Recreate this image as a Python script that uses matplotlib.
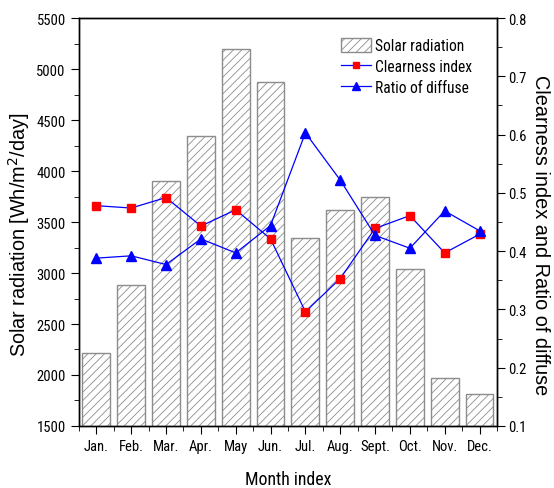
import matplotlib
matplotlib.use("Agg")
import matplotlib.pyplot as plt
from matplotlib.ticker import MultipleLocator
import numpy as np

plt.rcParams['font.family'] = ['Liberation Sans', 'DejaVu Sans']
plt.rcParams['hatch.color'] = '#999999'
plt.rcParams['hatch.linewidth'] = 0.6

narrow = ['Roboto Condensed', 'Liberation Sans', 'DejaVu Sans']

months = ['Jan.', 'Feb.', 'Mar.', 'Apr.', 'May', 'Jun.', 'Jul.', 'Aug.', 'Sept.', 'Oct.', 'Nov.', 'Dec.']
solar = [2220, 2880, 3900, 4340, 5200, 4870, 3340, 3620, 3750, 3040, 1970, 1810]
clearness = [0.478, 0.474, 0.492, 0.443, 0.471, 0.421, 0.296, 0.353, 0.439, 0.461, 0.397, 0.429]
diffuse = [0.388, 0.392, 0.377, 0.421, 0.397, 0.444, 0.603, 0.522, 0.427, 0.405, 0.469, 0.435]

x = np.arange(1, len(months) + 1)

fig = plt.figure(figsize=(5.54, 4.89), dpi=100)
ax = fig.add_axes([0.1426, 0.1268, 0.7544, 0.8343])

bars = ax.bar(x, solar, width=0.8, bottom=0, color='white', edgecolor='#8c8c8c',
              linewidth=1.0, hatch='////', label='Solar radiation', zorder=2)
ax.set_ylim(1500, 5500)
ax.set_xlim(0.5, 12.5)
ax.set_xticks(x)
ax.set_xticklabels(months)
ax.xaxis.set_minor_locator(MultipleLocator(0.5))
ax.yaxis.set_major_locator(MultipleLocator(500))
ax.yaxis.set_minor_locator(MultipleLocator(250))
ax.tick_params(which='both', direction='out', top=False)
ax.tick_params(which='major', length=6)
ax.tick_params(which='minor', length=3.5)
ax.set_ylabel('Solar radiation [Wh/m$^2$/day]', fontsize=14.3)
ax.yaxis.set_label_coords(-0.112, 0.47)
ax.set_xlabel('Month index', fontsize=12.8, family=narrow, labelpad=12)

ax2 = ax.twinx()
l1, = ax2.plot(x, clearness, color='blue', lw=0.9, marker='s', ms=6,
               mfc='red', mec='red', label='Clearness index', zorder=3)
l2, = ax2.plot(x, diffuse, color='blue', lw=0.9, marker='^', ms=7,
               mfc='blue', mec='blue', label='Ratio of diffuse', zorder=3)
ax2.set_ylim(0.1, 0.8)
ax2.yaxis.set_major_locator(MultipleLocator(0.1))
ax2.yaxis.set_minor_locator(MultipleLocator(0.05))
ax2.tick_params(which='both', direction='out', pad=2)
ax2.tick_params(which='major', length=6)
ax2.tick_params(which='minor', length=3.5)
ax2.set_ylabel('Clearness index and Ratio of diffuse', fontsize=14.3, rotation=-90)
ax2.yaxis.set_label_coords(1.128, 0.47)

for a in (ax, ax2):
    for lab in a.get_xticklabels() + a.get_yticklabels():
        lab.set_family(narrow)
        lab.set_fontsize(10.5)
    for s in a.spines.values():
        s.set_linewidth(1.0)

ax2.legend([bars, l1, l2], ['Solar radiation', 'Clearness index', 'Ratio of diffuse'],
           loc='upper right', bbox_to_anchor=(0.975, 0.985), frameon=False,
           prop={'family': narrow, 'size': 11.2}, handlelength=1.9,
           handleheight=0.95, handletextpad=0.3, labelspacing=0.38, markerscale=0.8)

fig.savefig('out.png', dpi=100)
